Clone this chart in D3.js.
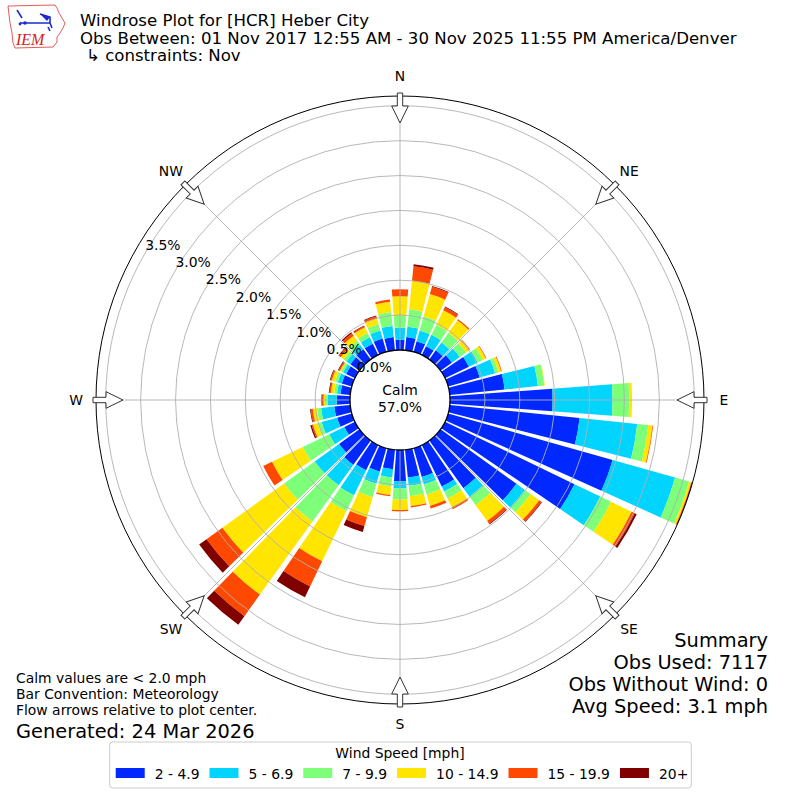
<!DOCTYPE html>
<html>
<head>
<meta charset="utf-8">
<script src="https://cdn.jsdelivr.net/npm/d3@7"></script>
<style>
  body { margin: 0; background: #fff; }
  svg { font-family: "DejaVu Sans", sans-serif; }
</style>
</head>
<body>
<svg id="windrose" width="800" height="800"></svg>
<script>
// direction bins (deg, where the wind blows from)
const directions = [0, 10, 20, 30, 40, 50, 60, 70, 80, 90, 100, 110, 120, 130, 140, 150, 160, 170,
                    180, 190, 200, 210, 220, 230, 240, 250, 260, 270, 280, 290, 300, 310, 320, 330, 340, 350];

// speed bins and colours
const speedBins = ["2 - 4.9", "5 - 6.9", "7 - 9.9", "10 - 14.9", "15 - 19.9", "20+"];
const binColors = ["#0028ff", "#00d4ff", "#7dff7a", "#ffe500", "#ff4800", "#800000"];

// frequency (%) per direction for each speed bin
const s2_49 = [.15, .19, .16, .14, .16, .20, .38, .47, .79, 1.47, 1.87, 2.45, 2.06, 1.34, .84, .66, .43, .40,
               .45, .28, .35, .40, .43, .36, .17, .22, .23, .19, .14, .15, .14, .16, .18, .18, .20, .19];
const s5_69 = [.17, .15, .16, .18, .14, .14, .14, .23, .48, .86, .83, .93, .41, .15, .15, .08, .11, .12,
               .10, .12, .18, .40, .36, .43, .24, .23, .19, .13, .05, .06, .05, .07, .08, .10, .12, .16];
const s7_99 = [.18, .25, .21, .16, .17, .11, .08, .05, .09, .24, .16, .21, .17, .10, .15, .11, .15, .15,
               .16, .13, .20, .25, .64, .54, .42, .06, .06, .04, .04, .04, .03, .05, .07, .07, .09, .20];
const s10_149 = [.27, .41, .33, .23, .22, .06, .05, .04, .01, .04, .06, .03, .33, .15, .28, .14, .17, .14,
                 .15, .12, .30, .80, 1.29, 1.09, .49, .07, .06, .02, .05, .05, .02, .05, .09, .09, .09, .15];
const s15_199 = [.10, .21, .11, .05, .02, .01, .01, .01, 0, 0, .01, .01, .05, .04, .05, .03, .04, .02,
                 .02, .02, .13, .40, .38, .28, .14, .02, .03, .02, .02, .02, .02, .03, .04, .02, .03, .03];
const s20p = [0, .03, .01, .01, 0, 0, 0, 0, 0, 0, 0, .01, .03, .01, .01, 0, 0, 0,
              0, 0, .09, .17, .15, .13, 0, .02, .01, .01, .01, .01, .01, .01, .02, .01, .01, 0];

const calmPct = 57.0;
const rTicks = [0, 0.5, 1.0, 1.5, 2.0, 2.5, 3.0, 3.5];
const compassLabels = ["N", "NE", "E", "SE", "S", "SW", "W", "NW"];
const compassAngles = [0, 45, 90, 135, 180, 225, 270, 315];

const titleLines = ["Windrose Plot for [HCR] Heber City",
                    "Obs Between: 01 Nov 2017 12:55 AM - 30 Nov 2025 11:55 PM America/Denver",
                    "\u21b3 constraints: Nov"];
const summaryLines = ["Summary", "Obs Used: 7117", "Obs Without Wind: 0", "Avg Speed: 3.1 mph"];
const noteLines = ["Calm values are < 2.0 mph", "Bar Convention: Meteorology", "Flow arrows relative to plot center."];
const generatedText = "Generated: 24 Mar 2026";

// layout
const cx = 400, cy = 400, rCalm = 50, rOuter = 304;
const barHalfWidth = 4.25; // degrees
const rad = d => d * Math.PI / 180;

const svg = d3.select("#windrose");

// stack the speed bins for each direction
const series = [s2_49, s5_69, s7_99, s10_149, s15_199, s20p];
const keys = d3.range(series.length);
const rows = directions.map((dir, i) => {
    const row = { dir: dir };
    keys.forEach(k => row[k] = series[k][i]);
    return row;
});
const stacked = d3.stack().keys(keys)(rows);
const rmax = d3.max(stacked[stacked.length - 1], d => d[1]);

// radial scale starts at the calm circle
const r = d3.scaleLinear([0, rmax], [rCalm, rOuter]);

const arc = d3.arc()
    .innerRadius(d => r(d[0]))
    .outerRadius(d => r(d[1]))
    .startAngle(d => rad(d.data.dir - barHalfWidth))
    .endAngle(d => rad(d.data.dir + barHalfWidth));

const plot = svg.append("g")
    .attr("transform", `translate(${cx},${cy})`);

// bars
plot.append("g")
    .selectAll("g")
    .data(stacked)
    .join("g")
    .attr("fill", (s, i) => binColors[i])
    .selectAll("path")
    .data(s => s.filter(d => d[1] > d[0]))
    .join("path")
    .attr("d", arc);

// grid rings and spokes (drawn over the bars)
const grid = plot.append("g")
    .attr("fill", "none")
    .attr("stroke", "#b0b0b0")
    .attr("stroke-width", 0.9);

grid.selectAll("circle")
    .data(rTicks.slice(1))
    .join("circle")
    .attr("r", d => r(d));

grid.selectAll("line")
    .data(compassAngles)
    .join("line")
    .attr("x1", 0).attr("y1", 0)
    .attr("x2", a => rOuter * Math.sin(rad(a)))
    .attr("y2", a => -rOuter * Math.cos(rad(a)));

// outer frame
plot.append("circle")
    .attr("r", rOuter)
    .attr("fill", "none")
    .attr("stroke", "#000")
    .attr("stroke-width", 1);

// calm circle
plot.append("circle")
    .attr("r", rCalm)
    .attr("fill", "#fff")
    .attr("stroke", "#000")
    .attr("stroke-width", 1.3);

plot.append("text")
    .attr("text-anchor", "middle")
    .style("font-size", "13.9px")
    .selectAll("tspan")
    .data(["Calm", calmPct.toFixed(1) + "%"])
    .join("tspan")
    .attr("x", 0)
    .attr("y", (d, i) => -5 + i * 17)
    .text(d => d);

// radial tick labels (on top of the calm circle)
const rLabelAngle = 300;
plot.append("g")
    .style("font-size", "13.9px")
    .selectAll("text")
    .data(rTicks)
    .join("text")
    .attr("x", d => r(d) * Math.sin(rad(rLabelAngle)))
    .attr("y", d => -r(d) * Math.cos(rad(rLabelAngle)) - 3.3)
    .text(d => d.toFixed(1) + "%");

// flow arrows, pointing to the centre
const arrowPts = [[-2.7, rOuter + 3], [-2.7, rOuter - 10], [-8.3, rOuter - 10], [0, rOuter - 27],
                  [8.3, rOuter - 10], [2.7, rOuter - 10], [2.7, rOuter + 3]];
plot.append("g")
    .selectAll("polygon")
    .data(compassAngles)
    .join("polygon")
    .attr("points", arrowPts.map(p => `${p[0]},${-p[1]}`).join(" "))
    .attr("transform", a => `rotate(${a})`)
    .attr("fill", "#fff")
    .attr("stroke", "#333")
    .attr("stroke-width", 1);

// compass labels
plot.append("g")
    .attr("text-anchor", "middle")
    .style("font-size", "13.9px")
    .selectAll("text")
    .data(compassLabels)
    .join("text")
    .attr("x", (d, i) => 324 * Math.sin(rad(compassAngles[i])))
    .attr("y", (d, i) => -324 * Math.cos(rad(compassAngles[i])))
    .attr("dy", "0.35em")
    .text(d => d);

// title
svg.append("g")
    .style("font-size", "16.6px")
    .selectAll("text")
    .data(titleLines)
    .join("text")
    .attr("x", (d, i) => i === 2 ? 86 : 80)
    .attr("y", (d, i) => 26 + i * 17.5)
    .text(d => d);

// summary block
svg.append("g")
    .attr("text-anchor", "end")
    .style("font-size", "19.4px")
    .selectAll("text")
    .data(summaryLines)
    .join("text")
    .attr("x", 768)
    .attr("y", (d, i) => 647 + i * 22)
    .text(d => d);

// notes
svg.append("g")
    .style("font-size", "13.9px")
    .selectAll("text")
    .data(noteLines)
    .join("text")
    .attr("x", 16)
    .attr("y", (d, i) => 683 + i * 16)
    .text(d => d);

svg.append("text")
    .attr("x", 16)
    .attr("y", 738)
    .style("font-size", "19.4px")
    .text(generatedText);

// legend
const legend = svg.append("g");
const legendBox = legend.append("rect")
    .attr("y", 742)
    .attr("height", 46)
    .attr("rx", 3)
    .attr("fill", "#fff")
    .attr("stroke", "#cccccc");

legend.append("text")
    .attr("x", 400)
    .attr("y", 758)
    .attr("text-anchor", "middle")
    .style("font-size", "13.9px")
    .text("Wind Speed [mph]");

const items = legend.append("g");
var lx = 0;
speedBins.forEach((label, i) => {
    const item = items.append("g").attr("transform", `translate(${lx},0)`);
    item.append("rect")
        .attr("y", 768)
        .attr("width", 29)
        .attr("height", 10)
        .attr("fill", binColors[i]);
    const t = item.append("text")
        .attr("x", 39)
        .attr("y", 779)
        .style("font-size", "13.9px")
        .text(label);
    lx += 39 + t.node().getComputedTextLength() + 10;
});
const itemsWidth = lx - 10;
const itemsX = 400 - itemsWidth / 2 + 2;
items.attr("transform", `translate(${itemsX},0)`);
legendBox.attr("x", itemsX - 6).attr("width", itemsWidth + 9);

// IEM logo
const logo = svg.append("g");
logo.append("path")
    .attr("d", "M8,6 L55,5 L57,8 L59,13 L62,18 L65,23 L63,28 L60,33 L57,37 L57,42 L53,47 L15,48 L13,43 L12,33 L10,23 Z")
    .attr("fill", "#fff")
    .attr("stroke", "#e03030")
    .attr("stroke-width", 0.8);
logo.append("path")
    .attr("d", "M17,10 L22,18 M20,23 L50,23 M40,14 L50,17 L50,23 M50,23 L52,28 M48,27 L50,31")
    .attr("fill", "none")
    .attr("stroke", "#1a2ccf")
    .attr("stroke-width", 1.6);
logo.append("path")
    .attr("d", "M40,14 L50,17 L47,21 Z")
    .attr("fill", "#1a2ccf");
logo.append("circle").attr("cx", 20).attr("cy", 24).attr("r", 1.4).attr("fill", "#1a2ccf");
logo.append("circle").attr("cx", 25).attr("cy", 23).attr("r", 1.8).attr("fill", "#1a2ccf");
logo.append("text")
    .attr("x", 16)
    .attr("y", 45)
    .attr("fill", "#d42020")
    .style("font-family", "'Liberation Serif', serif")
    .style("font-style", "italic")
    .style("font-size", "16px")
    .text("IEM");
</script>
</body>
</html>
